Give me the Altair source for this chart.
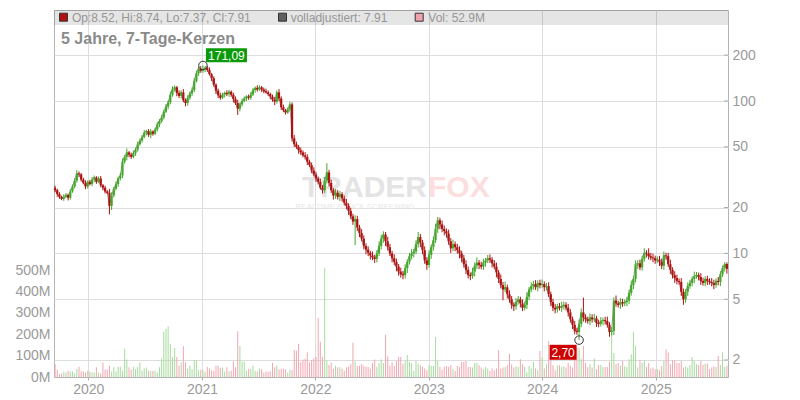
import altair as alt
import numpy as np
import pandas as pd

# ---------------- data ----------------
START = "2019-09-16"          # first weekly candle
first_open = 27.0

closes = [
    26.0, 24.5, 23.5, 22.8, 23.5, 24.2, 23.2, 25.5, 27.5, 30.0,
    33.5, 33.0, 30.5, 29.0, 27.5, 29.5, 28.5, 30.5, 31.5, 29.5,
    31.0, 28.0, 27.0, 25.5, 25.0, 20.5, 24.0, 26.5, 28.5, 31.0,
    32.5, 40.0, 43.0, 46.0, 44.5, 43.0, 45.5, 48.0, 52.0, 55.0,
    58.0, 62.0, 63.5, 60.0, 63.0, 61.0, 65.0, 70.0, 74.0, 78.0,
    85.0, 92.0, 98.0, 110.0, 120.0, 123.0, 113.0, 108.0, 114.0, 101.0,
    97.0, 105.0, 112.0, 118.0, 135.0, 152.0, 163.0, 158.0, 161.0, 165.0,
    160.0, 150.0, 141.0, 128.0, 117.0, 109.0, 105.0, 110.0, 113.0, 111.0,
    115.0, 110.0, 103.0, 97.0, 89.0, 95.0, 100.0, 104.0, 107.0, 105.0,
    110.0, 118.0, 122.0, 119.0, 123.0, 119.0, 116.0, 114.0, 111.0, 107.0,
    102.0, 99.0, 114.0, 104.0, 91.0, 87.0, 84.0, 88.0, 95.0, 57.0,
    52.0, 50.0, 47.5, 46.0, 44.0, 43.0, 40.0, 38.0, 35.0, 33.0,
    31.0, 29.5, 27.0, 26.0, 30.0, 34.0, 29.0, 26.0, 24.0, 25.0,
    23.5, 24.5, 23.0, 21.5, 20.5, 19.0, 17.5, 16.2, 16.8, 14.8,
    13.6, 12.5, 11.2, 10.6, 10.1, 9.7, 9.4, 9.2, 10.0, 11.2,
    12.5, 13.3, 12.0, 11.0, 10.0, 9.3, 8.8, 8.2, 7.6, 7.3,
    7.2, 8.0, 8.8, 9.6, 10.0, 10.3, 11.5, 12.8, 11.8, 10.5,
    9.0, 8.4, 9.8, 11.0, 12.2, 14.5, 16.5, 15.5, 14.5, 14.0,
    13.5, 12.0, 10.8, 11.5, 11.0, 10.5, 10.0, 9.3, 8.5, 7.8,
    7.2, 7.1, 7.6, 8.3, 8.7, 8.4, 8.2, 8.7, 9.0, 9.3,
    9.1, 8.6, 8.2, 7.5, 6.8, 6.2, 5.8, 6.0, 5.4, 5.0,
    4.6, 4.5, 4.8, 5.0, 4.7, 4.4, 4.6, 5.2, 5.8, 6.1,
    6.3, 6.0, 6.4, 6.2, 6.3, 6.0, 6.1, 5.4, 4.8, 4.4,
    4.3, 4.5, 4.4, 4.5, 4.6, 4.4, 4.1, 3.7, 3.4, 3.1,
    3.05, 3.45, 4.1, 3.8, 3.7, 3.6, 3.8, 3.7, 3.75, 3.5,
    3.45, 3.6, 3.65, 3.6, 3.4, 3.05, 3.1, 4.9, 4.7, 4.6,
    4.8, 4.7, 4.8, 4.9, 5.5, 6.2, 6.8, 8.5, 8.6, 8.1,
    9.2, 10.1, 10.0, 9.6, 9.4, 9.3, 9.0, 9.1, 8.8, 8.3,
    9.7, 9.6, 8.5, 7.8, 7.2, 6.9, 6.6, 6.5, 5.6, 5.0,
    5.6, 6.1, 6.4, 6.8, 7.1, 7.2, 7.0, 6.6, 6.4, 6.8,
    6.6, 6.5, 6.4, 6.2, 6.6, 6.5, 7.3, 8.0, 8.52, 7.91,
]

# upper / lower wick beyond the body, in percent
hi_pct = [
    3, 2, 3, 2, 4, 3, 2, 4, 3, 4,
    5, 3, 2, 3, 4, 2, 3, 4, 3, 2,
    3, 4, 2, 3, 2, 6, 5, 3, 4, 3,
    4, 5, 3, 6, 2, 3, 4, 3, 4, 3,
    3, 4, 2, 3, 4, 2, 3, 4, 3, 4,
    3, 4, 3, 5, 4, 3, 2, 4, 3, 5,
    3, 4, 3, 4, 5, 4, 3, 4, 0, 3,
    3, 4, 2, 3, 2, 3, 4, 3, 2, 4,
    3, 2, 3, 4, 5, 3, 4, 3, 2, 3,
    4, 3, 2, 4, 3, 2, 3, 4, 3, 2,
    3, 4, 3, 5, 3, 4, 2, 3, 4, 3,
    5, 4, 3, 4, 3, 5, 4, 3, 4, 5,
    4, 3, 5, 4, 6, 15, 4, 5, 3, 6,
    4, 5, 3, 4, 6, 4, 5, 4, 6, 5,
    4, 6, 5, 4, 5, 3, 6, 4, 5, 7,
    6, 5, 4, 7, 5, 4, 6, 5, 4, 6,
    5, 6, 4, 5, 7, 4, 6, 8, 5, 4,
    6, 5, 7, 4, 6, 8, 5, 4, 6, 5,
    4, 6, 5, 7, 4, 5, 6, 4, 5, 6,
    5, 4, 6, 5, 8, 4, 5, 6, 4, 5,
    6, 4, 5, 6, 4, 7, 5, 9, 4, 6,
    5, 4, 6, 5, 4, 6, 5, 7, 4, 6,
    5, 6, 4, 5, 7, 4, 5, 6, 4, 5,
    6, 4, 5, 7, 5, 4, 6, 5, 4, 6,
    5, 7, 6, 25, 5, 4, 6, 5, 7, 4,
    5, 6, 4, 5, 7, 4, 6, 5, 8, 4,
    6, 5, 4, 6, 5, 7, 4, 6, 5, 6,
    5, 7, 4, 8, 5, 6, 4, 5, 6, 5,
    6, 4, 5, 7, 4, 6, 5, 4, 6, 5,
    4, 6, 5, 4, 7, 5, 4, 6, 5, 4,
    5, 4, 6, 5, 4, 6, 5, 4, 3, 0,
]
lo_pct = [
    3, 4, 3, 2, 3, 2, 4, 3, 2, 3,
    3, 4, 3, 2, 4, 3, 2, 3, 4, 3,
    2, 3, 4, 3, 2, 12, 6, 3, 2, 4,
    3, 4, 3, 5, 4, 3, 2, 4, 3, 2,
    3, 2, 4, 3, 5, 3, 2, 3, 4, 3,
    3, 2, 4, 3, 3, 4, 5, 3, 4, 3,
    5, 4, 3, 4, 3, 2, 4, 3, 3, 4,
    3, 2, 4, 3, 5, 4, 3, 2, 4, 3,
    4, 3, 5, 3, 9, 4, 3, 2, 4, 3,
    3, 2, 4, 3, 2, 4, 3, 2, 3, 4,
    3, 5, 3, 4, 4, 3, 3, 2, 3, 5,
    4, 3, 5, 4, 3, 4, 5, 3, 4, 3,
    5, 4, 3, 5, 4, 4, 5, 4, 6, 5,
    4, 6, 5, 4, 5, 6, 4, 5, 30, 5,
    6, 4, 5, 7, 5, 6, 4, 6, 5, 4,
    5, 6, 7, 5, 4, 6, 5, 7, 6, 5,
    6, 5, 7, 4, 5, 6, 4, 5, 7, 6,
    5, 7, 4, 6, 5, 4, 6, 7, 5, 6,
    6, 5, 7, 4, 6, 5, 7, 6, 5, 6,
    5, 6, 4, 7, 5, 6, 4, 5, 6, 4,
    5, 6, 4, 7, 6, 5, 15, 4, 6, 5,
    6, 7, 5, 4, 6, 5, 4, 6, 5, 4,
    5, 4, 6, 5, 4, 6, 5, 4, 6, 5,
    6, 5, 4, 6, 5, 4, 6, 5, 6, 5,
    4, 0, 5, 6, 5, 4, 6, 5, 4, 6,
    5, 4, 6, 5, 4, 7, 5, 6, 5, 4,
    6, 5, 4, 6, 5, 4, 6, 5, 7, 4,
    5, 4, 6, 5, 4, 6, 5, 4, 6, 5,
    6, 5, 4, 6, 5, 7, 5, 4, 6, 8,
    5, 6, 4, 5, 6, 4, 5, 6, 4, 5,
    6, 4, 5, 6, 4, 5, 6, 4, 5, 0,
]

# weekly volume in millions
volume_m = [
    61, 34, 13, 16, 24, 21, 29, 26, 26, 16,
    37, 48, 29, 26, 21, 29, 24, 21, 21, 45,
    21, 16, 68, 35, 35, 53, 26, 45, 26, 48,
    48, 29, 132, 82, 45, 34, 48, 37, 47, 68,
    29, 40, 44, 29, 29, 29, 29, 21, 45, 87,
    213, 226, 237, 155, 94, 135, 94, 53, 68, 145,
    69, 40, 53, 37, 81, 77, 34, 34, 34, 24,
    48, 40, 32, 29, 53, 53, 42, 44, 26, 45,
    26, 29, 73, 45, 214, 145, 73, 73, 29, 37,
    37, 53, 29, 26, 40, 37, 21, 26, 24, 26,
    66, 45, 52, 35, 39, 39, 35, 21, 34, 32,
    126, 123, 155, 69, 82, 85, 116, 69, 79, 85,
    94, 276, 165, 94, 508, 77, 56, 68, 37, 53,
    45, 45, 37, 29, 45, 48, 61, 160, 73, 50,
    53, 61, 53, 48, 47, 40, 66, 82, 48, 64,
    82, 66, 198, 97, 53, 69,
    51, 75, 93, 93, 62, 75, 103, 70, 64, 28,
    75, 62, 55, 47, 40, 31, 55, 51, 51, 187,
    75, 47, 33, 47, 51, 47, 56, 37, 28, 51,
    47, 70, 70, 75, 47, 47, 44, 65, 65, 55,
    44, 36, 47, 40, 28, 40, 31, 40, 125, 40,
    44, 47, 55, 109, 59, 44, 50, 47, 83, 59,
    48, 22, 51, 40, 70, 40, 31, 122, 93, 40,
    59, 168, 103, 55, 31, 55, 55, 47,
    50, 44, 65, 53, 44, 98, 137, 137, 87, 145,
    67, 47, 59, 44, 87, 36, 56, 56, 47, 47,
    47, 72, 215, 112, 59, 65, 53, 75, 50, 47,
    83, 106, 212, 145, 44, 81, 65, 78, 47, 65,
    40, 44, 36, 37, 31, 50, 75, 129, 114, 59,
    78, 78, 65, 65, 75, 44, 50, 44, 56, 93,
    75, 59, 56, 75, 56, 62, 62, 37, 44, 50,
    47, 98, 56, 114, 47, 52.9,
]

price_ticks = [2, 5, 10, 20, 50, 100, 200]
volume_ticks = [0, 100, 200, 300, 400, 500]
years = [2020, 2021, 2022, 2023, 2024, 2025]

peak_index, peak_value, peak_label = 68, 171.09, "171,09"
trough_index, trough_value, trough_label = 241, 2.70, "2,70"
last_open, last_high, last_low, last_close = 8.52, 8.74, 7.37, 7.91
last_volume = "52.9M"

title_text = "5 Jahre, 7-Tage-Kerzen"

# ---------------- table ----------------
n = len(closes)
dates = list(pd.date_range(START, periods=n, freq="7D").strftime("%Y-%m-%d"))
opens = [first_open] + closes[:-1]
highs = [max(o, c) * (1 + h / 100) for o, c, h in zip(opens, closes, hi_pct)]
lows = [min(o, c) * (1 - l / 100) for o, c, l in zip(opens, closes, lo_pct)]
highs[peak_index] = peak_value
lows[trough_index] = trough_value
highs[-1] = last_high
lows[-1] = last_low

GREEN, RED = "#44a82a", "#b01212"
VGREEN, VRED = "#a6db9e", "#f2a6b0"

df = pd.DataFrame({
    "date": dates, "open": opens, "close": closes,
    "high": highs, "low": lows, "vol": volume_m,
})
up = df["close"] >= df["open"]
df["ccol"] = np.where(up, GREEN, RED)
df["vcol"] = np.where(up, VGREEN, VRED)

W, H = 674, 367
FONT = "Liberation Sans"
GRID = "#dddddd"
LABEL = "#9a9a9a"

x_scale = alt.Scale(
    type="utc",
    domain=[alt.DateTime(year=2019, month=9, date=12, hours=12, utc=True),
            alt.DateTime(year=2025, month=8, date=21, hours=12, utc=True)],
    padding=0,
)
x_axis = alt.Axis(
    values=[alt.DateTime(year=y, month=1, date=1, utc=True) for y in years],
    format="%Y", grid=True, gridColor=GRID, domain=False,
    ticks=True, tickSize=3, tickColor="#aaaaaa",
    labelPadding=2, labelFontSize=14, labelColor=LABEL, labelFont=FONT,
)
X = alt.X("date:T", scale=x_scale, axis=x_axis, title=None)

price_scale = alt.Scale(type="log", domain=[1.546, 395.4], nice=False, padding=0)
price_axis = alt.Axis(
    orient="right", values=price_ticks, format="d", grid=True, gridColor=GRID,
    ticks=False, domain=False, labelPadding=4, labelFontSize=14,
    labelColor=LABEL, labelFont=FONT,
)


def YP(field):
    return alt.Y(f"{field}:Q", scale=price_scale, axis=price_axis, title=None)


one = pd.DataFrame({"k": [0]})

band = alt.Chart(one).mark_rect(color="black", opacity=0.1).encode(
    x=alt.value(0), x2=alt.value(W), y=alt.value(0), y2=alt.value(15))

wm1 = alt.Chart(one).mark_text(
    text="TRADER", align="right", baseline="alphabetic", fontSize=30,
    fontWeight="bold", font=FONT, color="#e4e4e4").encode(
    x=alt.value(373), y=alt.value(186.5))
wm2 = alt.Chart(one).mark_text(
    text="FOX", align="left", baseline="alphabetic", fontSize=30,
    fontWeight="bold", font=FONT, color="#fcdede").encode(
    x=alt.value(374), y=alt.value(186.5))
wm3 = alt.Chart(one).mark_text(
    text="REALTIME STOCK SCREENING", align="center", baseline="alphabetic",
    fontSize=8, font=FONT, color="#e8e8e8").encode(
    x=alt.value(301), y=alt.value(199))

vol = alt.Chart(df).mark_bar(width=1).encode(
    x=X,
    y=alt.Y("vol:Q", scale=alt.Scale(domain=[0, 1715], nice=False, padding=0),
            axis=alt.Axis(orient="left", values=volume_ticks,
                          labelExpr="datum.value + 'M'", grid=False,
                          ticks=False, domain=False, labelPadding=4,
                          labelFontSize=14, labelColor=LABEL, labelFont=FONT),
            title=None),
    color=alt.Color("vcol:N", scale=None),
)

line = alt.Chart(df).mark_line(color="#9a9a9a", strokeWidth=1).encode(
    x=X, y=YP("close"))
wick = alt.Chart(df).mark_rule(strokeWidth=1).encode(
    x=X, y=YP("low"), y2="high:Q", color=alt.Color("ccol:N", scale=None))
body = alt.Chart(df).mark_bar(width=2.2).encode(
    x=X, y=YP("open"), y2="close:Q", color=alt.Color("ccol:N", scale=None))

# short inward tick marks on the right price axis
tick_df = pd.DataFrame({"v": price_ticks})
inner_ticks = alt.Chart(tick_df).mark_rule(color="#aaaaaa", strokeWidth=1).encode(
    x=alt.value(W - 4), x2=alt.value(W), y=YP("v"))


def marker(idx, value, label, fill, bw, bh, dx, dy):
    d = pd.DataFrame({"date": [dates[idx]], "value": [value], "label": [label]})
    base = alt.Chart(d)
    ring = base.mark_point(shape="circle", size=72, filled=False,
                           color="#333333", strokeWidth=1, opacity=1).encode(
        x=X, y=YP("value"))
    hh = bh / bw
    path = f"M-1,-{hh:.4f}L1,-{hh:.4f}L1,{hh:.4f}L-1,{hh:.4f}Z"
    box = base.mark_point(shape=path, size=bw * bw, filled=True, color=fill,
                          opacity=1, strokeWidth=0, xOffset=dx, yOffset=dy).encode(
        x=X, y=YP("value"))
    txt = base.mark_text(align="center", baseline="middle", color="white",
                         fontSize=12, font=FONT, xOffset=dx, yOffset=dy + 0.5).encode(
        x=X, y=YP("value"), text="label:N")
    return [ring, box, txt]


price = alt.layer(
    line, wick, body, inner_ticks,
    *marker(peak_index, peak_value, peak_label, "#0a9a0a", 41, 14, 23.5, -10.3),
    *marker(trough_index, trough_value, trough_label, "#cc0000", 27, 15, -16, 12.2),
)

legend_items = [
    (9.5, RED, 18, f"Op:{last_open:.2f}, Hi:{last_high:.2f}, Lo:{last_low:.2f}, Cl:{last_close:.2f}"),
    (228.5, "#606060", 236.7, f"volladjustiert: {last_close:.2f}"),
    (365.2, "#f0a3ad", 374.3, f"Vol: {last_volume}"),
]
header = []
for sx, col, tx, txt in legend_items:
    header.append(alt.Chart(one).mark_point(
        shape="square", size=64, filled=True, fill=col, stroke="#333333",
        strokeWidth=1, opacity=1).encode(x=alt.value(sx), y=alt.value(7.2)))
    header.append(alt.Chart(one).mark_text(
        text=txt, align="left", baseline="alphabetic", fontSize=12,
        font=FONT, color="#959595").encode(x=alt.value(tx), y=alt.value(11.7)))

title = alt.Chart(one).mark_text(
    text=title_text, align="left", baseline="alphabetic", fontSize=16,
    fontWeight="bold", font=FONT, color="#8a8a8a").encode(
    x=alt.value(7), y=alt.value(34.3))

chart = alt.layer(
    band, wm1, wm2, wm3, vol, price, *header, title
).resolve_scale(y="independent").properties(
    width=W, height=H,
    autosize=alt.AutoSizeParams(type="none"),
    padding={"left": 46, "top": 2, "right": 64, "bottom": 22},
).configure_view(stroke="#b4b4b4", strokeWidth=1
).configure_scale(continuousPadding=0)

chart.save("out.html", embed_options={"renderer": "svg", "actions": False})
